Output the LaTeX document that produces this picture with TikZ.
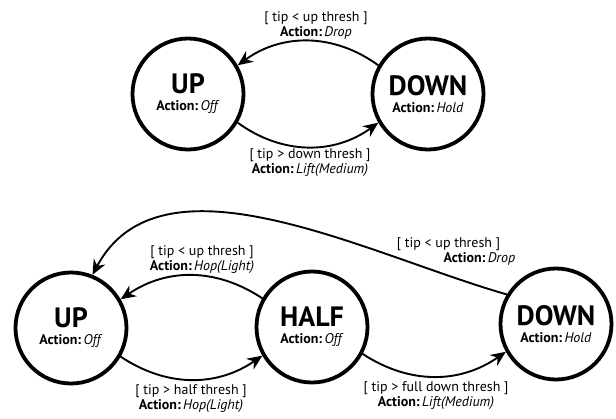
\documentclass[tikz,border=0pt]{standalone}
\usepackage{fontspec}
\setmainfont{PT Sans}
\usetikzlibrary{arrows.meta}

\tikzset{
  state/.style={circle,draw,line width=3.8pt,minimum size=111pt,inner sep=0pt,align=center},
  trans/.style={line width=1.9pt,-{Stealth[length=15pt,width=13pt]}},
  lbl/.style={align=center,font=\fontsize{14}{15}\selectfont,inner sep=0pt}
}
\newcommand{\stname}[2]{{\fontsize{28}{28}\selectfont\bfseries #1}\\[5pt]{\fontsize{14}{15}\selectfont\textbf{Action:}\,\textit{#2}}}

\begin{document}
\begin{tikzpicture}[x=1pt,y=-1pt]
    \useasboundingbox (0,0) rectangle (616,418);

    % two-state machine
    \node[state] (up1) at (188,94) {\stname{UP}{Off}};
    \node[state] (down1) at (428,94) {\stname{DOWN}{Hold}};
    \draw[trans] (down1.150) to[bend right=36] (up1.30);
    \draw[trans] (up1.-30) to[bend right=36] (down1.210);
    \node[lbl] at (316,25) {[ tip < up thresh ]\\\textbf{Action:}\,\textit{Drop}};
    \node[lbl] at (310,163) {[ tip > down thresh ]\\\textbf{Action:}\,\textit{Lift(Medium)}};

    % three-state machine
    \node[state] (up2) at (71,328) {\stname{UP}{Off}};
    \node[state] (half) at (312,327) {\stname{HALF}{Off}};
    \node[state] (down2) at (556,324) {\stname{DOWN}{Hold}};
    \draw[trans] (half.150) to[bend right=34] (up2.30);
    \draw[trans] (up2.-30) to[bend right=34] (half.210);
    \draw[trans] (half.-28) to[bend right=34] (down2.209);
    \draw[trans] (down2.149) to[out=164,in=62,looseness=0.9] (up2.68);
    \node[lbl] at (202,260) {[ tip < up thresh ]\\\textbf{Action:}\,\textit{Hop(Light)}};
    \node[lbl] at (191,399) {[ tip > half thresh ]\\\textbf{Action:}\,\textit{Hop(Light)}};
    \node[lbl] at (436,396) {[ tip > full down thresh ]\\\textbf{Action:}\,\textit{Lift(Medium)}};
    \node[lbl,align=right] at (456,251) {[ tip < up thresh ]\hspace*{15pt}\\\textbf{Action:}\,\textit{Drop}};
\end{tikzpicture}
\end{document}
